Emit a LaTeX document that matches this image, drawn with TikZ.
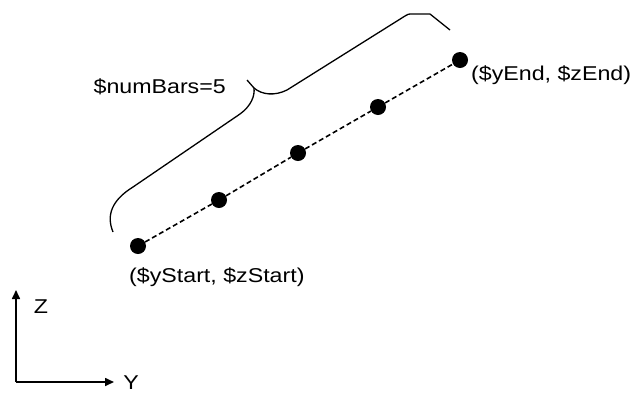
\documentclass[tikz,border=0pt]{standalone}
\usepackage{fontspec}
\setmainfont[FakeStretch=1.16]{Liberation Sans}
\usetikzlibrary{arrows.meta}
\begin{document}
\begin{tikzpicture}[x=1pt,y=-1pt,
  dot/.style={circle,fill=black,inner sep=0pt,minimum size=16pt},
  lbl/.style={inner sep=0pt,font=\fontsize{20}{23}\selectfont},
  conn/.style={line width=1.6pt,dash pattern=on 5pt off 3pt},
  brace/.style={line width=1.3pt},
  axis/.style={line width=1.6pt,-{Triangle[length=9pt,width=8pt]}}]
\useasboundingbox (0,0) rectangle (639,397);
\clip (0,0) rectangle (639,397);
% points
\node[dot] (p1) at (138,246) {};
\node[dot] (p2) at (219,200) {};
\node[dot] (p3) at (298,153) {};
\node[dot] (p4) at (378,107) {};
\node[dot] (p5) at (460,60) {};
\draw[conn] (p1) -- (p2) -- (p3) -- (p4) -- (p5);
% labels
\node[lbl,anchor=west] (ls) at (129,277) {(\$yStart, \$zStart)};
\node[lbl,anchor=west] (le) at (471,75) {(\$yEnd, \$zEnd)};
\node[lbl,anchor=east] (nb) at (226,87) {\$numBars=5};
% brace
\coordinate (bl) at (113,232);
\coordinate (bj) at (254,88);
\coordinate (bt) at (247,80);
\coordinate (br) at (450,30);
\draw[brace] (bl) .. controls (106,215) and (112,200) .. (133,187) -- (240,114)
  .. controls (251,106) and (255,96) .. (bj) -- (bt);
\draw[brace] (bj) .. controls (262,95) and (275,96) .. (287,90) -- (405,16)
  .. controls (408,14) .. (413,14) -- (430,14) -- (br);
% axes
\coordinate (o) at (16,382);
\coordinate (zt) at (16,290);
\coordinate (yt) at (114,382);
\draw[axis] (o) -- (zt);
\draw[axis] (o) -- (yt);
\node[lbl] (zl) at (41,307) {Z};
\node[lbl,anchor=north] (yl) at (131,376) {Y};
\end{tikzpicture}
\end{document}
